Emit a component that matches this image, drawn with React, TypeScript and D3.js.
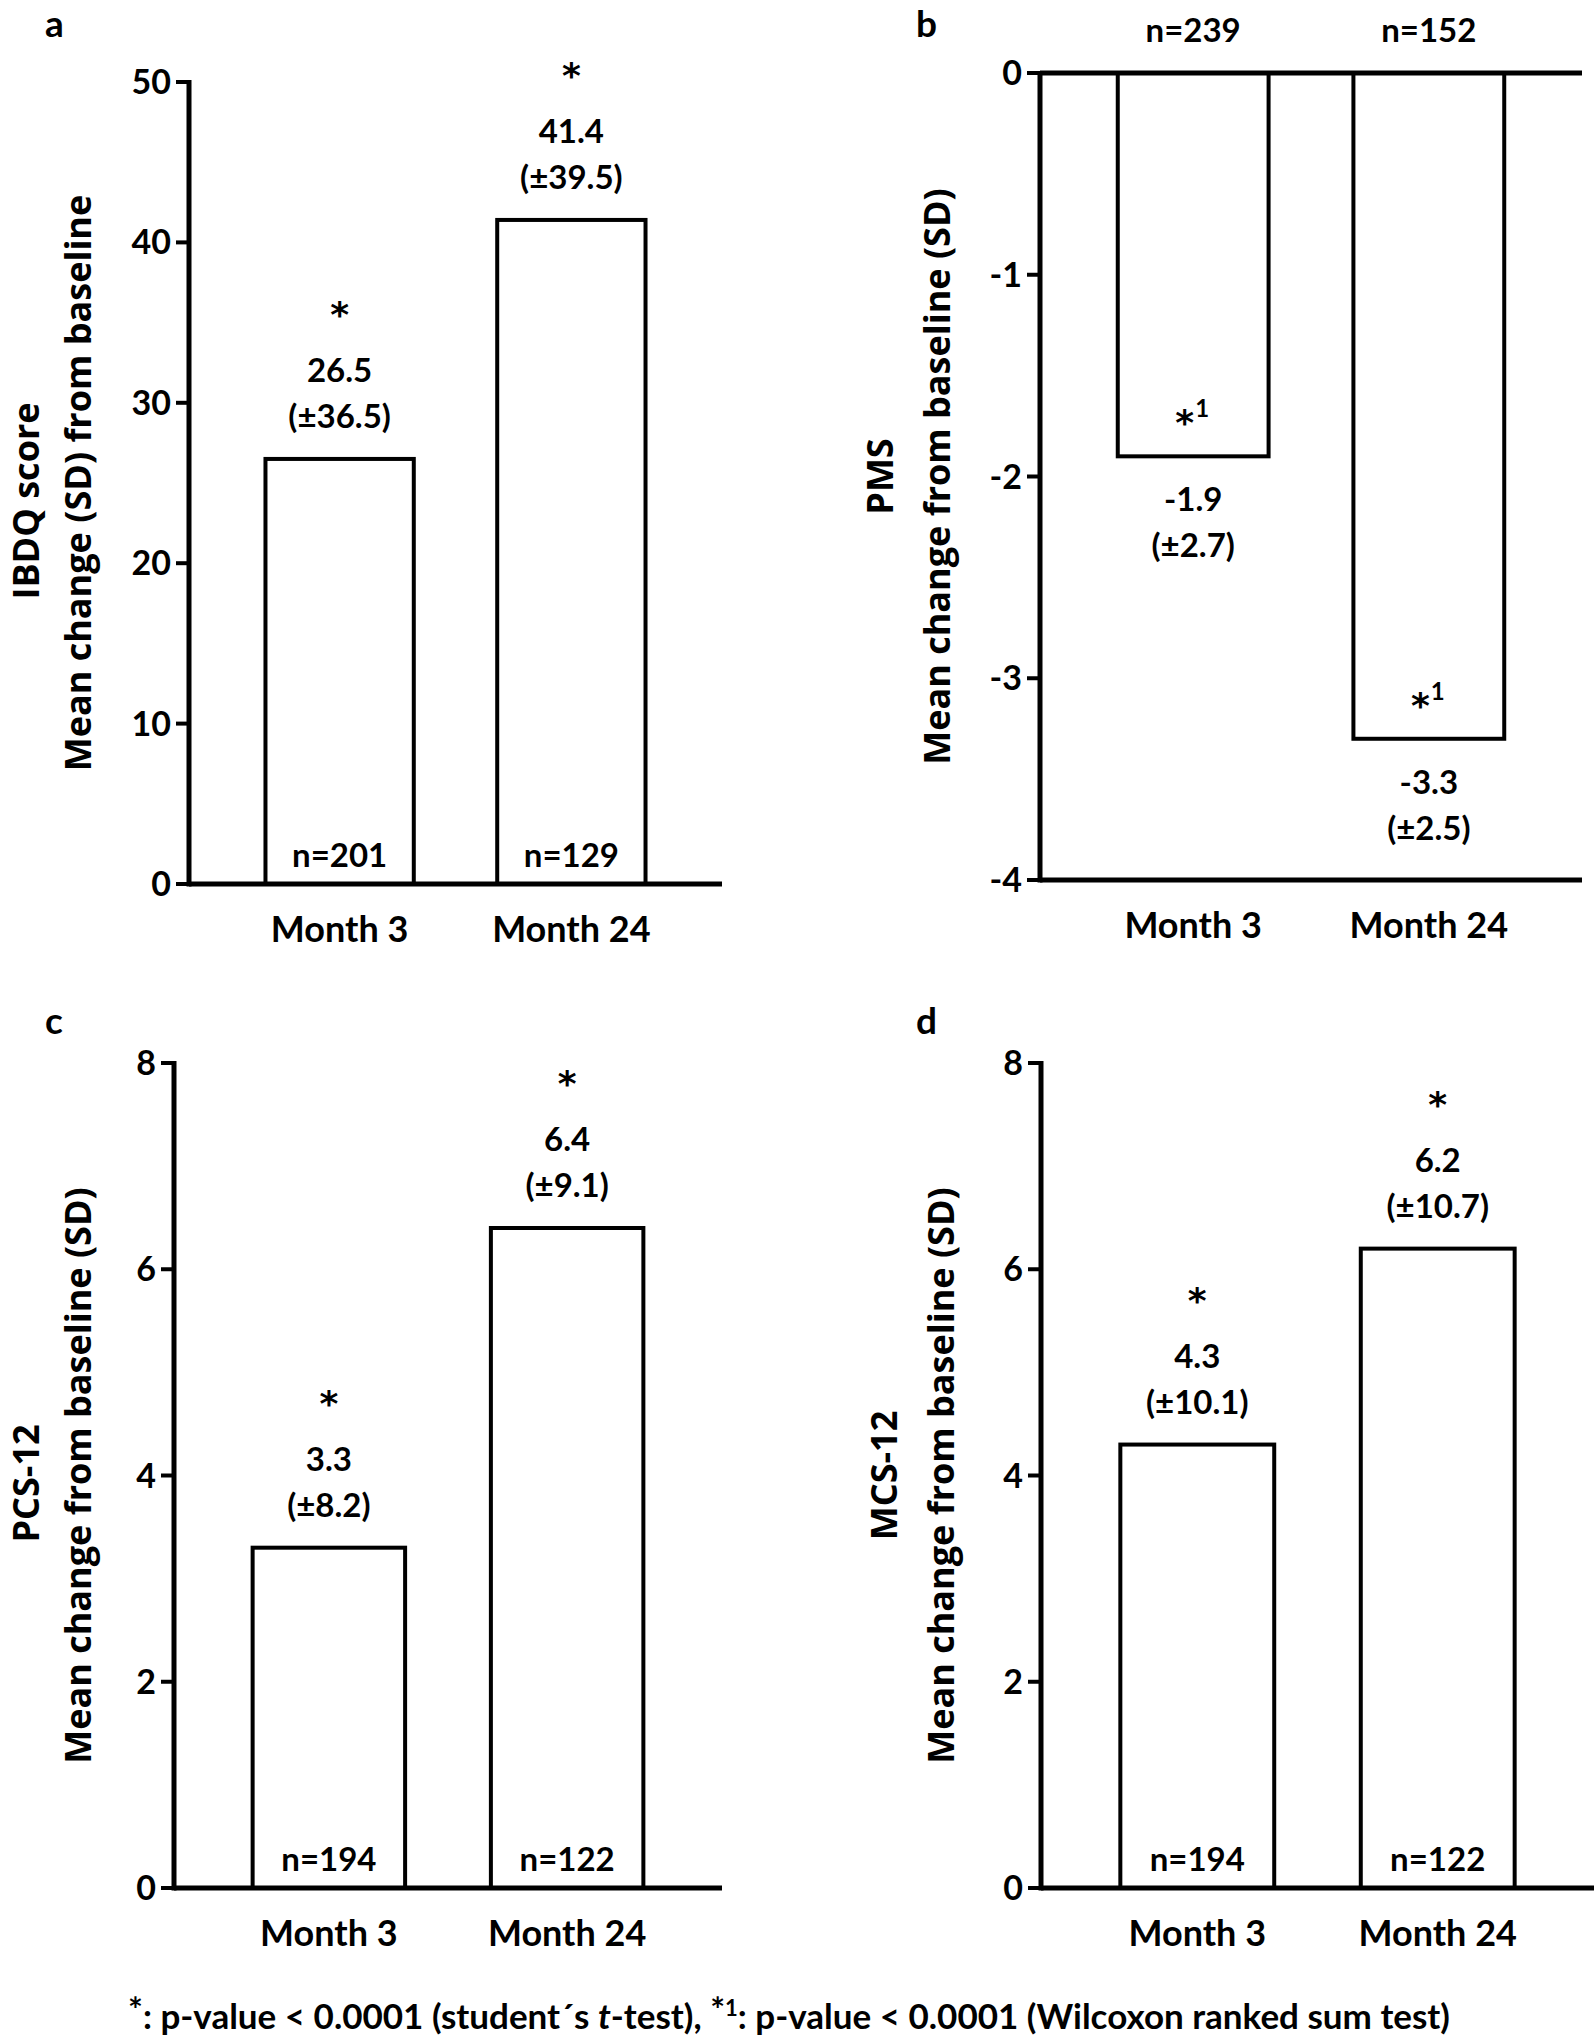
import React from "react";
import * as d3 from "d3";

const categories = ["Month 3", "Month 24"];

const ibdqMeans = [26.5, 41.4];
const ibdqSDs = [36.5, 39.5];
const ibdqNs = [201, 129];
const ibdqTicks = [0, 10, 20, 30, 40, 50];

const pmsMeans = [-1.9, -3.3];
const pmsSDs = [2.7, 2.5];
const pmsNs = [239, 152];
const pmsTicks = [0, -1, -2, -3, -4];

const pcsMeans = [3.3, 6.4];
const pcsSDs = [8.2, 9.1];
const pcsNs = [194, 122];

const mcsMeans = [4.3, 6.2];
const mcsSDs = [10.1, 10.7];
const mcsNs = [194, 122];
const sf12Ticks = [0, 2, 4, 6, 8];

const W = 1594;
const H = 2038;
const NUM_FONT = "Lato, 'Open Sans', sans-serif";
const TITLE_FONT = "'Open Sans', 'Noto Sans', sans-serif";
const STAR_FONT = "'DejaVu Sans', sans-serif";

type PanelCfg = {
  letter: string;
  letterX: number;
  letterY: number;
  axisX: number;
  xEnd: number;
  yTopPx: number;
  yBotPx: number;
  domain: [number, number];
  ticks: number[];
  means: number[];
  sds: number[];
  ns: number[];
  titles: string[];
  titleX: number[];
  title1Shift: number;
  negative: boolean;
};

const panels: PanelCfg[] = [
  {
    letter: "a", letterX: 45, letterY: 37, axisX: 189, xEnd: 722, yTopPx: 82, yBotPx: 884,
    domain: [0, 50], ticks: ibdqTicks, means: ibdqMeans, sds: ibdqSDs, ns: ibdqNs,
    titles: ["IBDQ score", "Mean change (SD) from baseline"], titleX: [39, 91], title1Shift: 18, negative: false,
  },
  {
    letter: "b", letterX: 916, letterY: 37, axisX: 1040, xEnd: 1582, yTopPx: 73, yBotPx: 880,
    domain: [-4, 0], ticks: pmsTicks, means: pmsMeans, sds: pmsSDs, ns: pmsNs,
    titles: ["PMS", "Mean change from baseline (SD)"], titleX: [893, 950], title1Shift: 0, negative: true,
  },
  {
    letter: "c", letterX: 45, letterY: 1034, axisX: 174, xEnd: 722, yTopPx: 1063, yBotPx: 1888,
    domain: [0, 8], ticks: sf12Ticks, means: pcsMeans, sds: pcsSDs, ns: pcsNs,
    titles: ["PCS-12", "Mean change from baseline (SD)"], titleX: [39, 91], title1Shift: 8, negative: false,
  },
  {
    letter: "d", letterX: 916, letterY: 1034, axisX: 1041, xEnd: 1594, yTopPx: 1063, yBotPx: 1888,
    domain: [0, 8], ticks: sf12Ticks, means: mcsMeans, sds: mcsSDs, ns: mcsNs,
    titles: ["MCS-12", "Mean change from baseline (SD)"], titleX: [897, 954], title1Shift: 0, negative: false,
  },
];

const fmt = (v: number) => v.toFixed(1);

function Panel({ p }: { p: PanelCfg }) {
  const x = d3
    .scaleBand<string>()
    .domain(categories)
    .range([p.axisX, p.xEnd])
    .paddingInner(0.36)
    .paddingOuter(0.33);
  const y = d3.scaleLinear().domain(p.domain).range([p.yBotPx, p.yTopPx]);
  const zeroY = y(0);
  const bw = x.bandwidth();
  const cy = (p.yTopPx + p.yBotPx) / 2;

  return (
    <g>
      <text x={p.letterX} y={p.letterY} fontFamily={NUM_FONT} fontWeight={700} fontSize={37}>
        {p.letter}
      </text>
      {p.titles.map((t, i) => (
        <text
          key={t}
          transform={`translate(${p.titleX[i]},${cy + (i === 0 ? p.title1Shift : 0)}) rotate(-90)`}
          textAnchor="middle"
          fontFamily={TITLE_FONT}
          fontWeight={700}
          fontSize={36}
        >
          {t}
        </text>
      ))}
      {/* bars */}
      {categories.map((c, i) => {
        const v = p.means[i];
        const y0 = y(Math.max(0, v));
        const y1 = y(Math.min(0, v));
        return (
          <rect
            key={c}
            x={x(c)}
            y={y0}
            width={bw}
            height={y1 - y0}
            fill="#fff"
            stroke="#000"
            strokeWidth={4}
          />
        );
      })}
      {/* y axis */}
      <line x1={p.axisX} x2={p.axisX} y1={p.yTopPx - 2} y2={p.yBotPx + 2.5} stroke="#000" strokeWidth={5} />
      {p.ticks.map((t) => (
        <g key={t}>
          <line x1={p.axisX - 13} x2={p.axisX} y1={y(t)} y2={y(t)} stroke="#000" strokeWidth={4} />
          <text
            x={p.axisX - 18}
            y={y(t) + 12}
            textAnchor="end"
            fontFamily={NUM_FONT}
            fontWeight={700}
            fontSize={34}
          >
            {t}
          </text>
        </g>
      ))}
      {/* horizontal axis lines */}
      <line x1={p.axisX} x2={p.xEnd} y1={zeroY} y2={zeroY} stroke="#000" strokeWidth={5} />
      {p.negative && (
        <line x1={p.axisX} x2={p.xEnd} y1={p.yBotPx} y2={p.yBotPx} stroke="#000" strokeWidth={5} />
      )}
      {/* category labels */}
      {categories.map((c) => (
        <text
          key={c}
          x={(x(c) as number) + bw / 2}
          y={p.yBotPx + 58}
          textAnchor="middle"
          fontFamily={NUM_FONT}
          fontWeight={700}
          fontSize={36}
        >
          {c}
        </text>
      ))}
      {/* annotations */}
      {categories.map((c, i) => {
        const cx = (x(c) as number) + bw / 2;
        const v = p.means[i];
        const edge = y(v);
        if (!p.negative) {
          return (
            <g key={c} fontWeight={700} textAnchor="middle">
              <text x={cx} y={edge - 132} fontSize={36} fontFamily={STAR_FONT}>*</text>
              <text x={cx} y={edge - 77} fontSize={33} fontFamily={NUM_FONT}>{fmt(v)}</text>
              <text x={cx} y={edge - 31} fontSize={33} fontFamily={NUM_FONT}>{`(±${fmt(p.sds[i])})`}</text>
              <text x={cx} y={zeroY - 17} fontSize={33} fontFamily={NUM_FONT}>{`n=${p.ns[i]}`}</text>
            </g>
          );
        }
        return (
          <g key={c} fontWeight={700}>
            <text x={cx + 1} y={edge - 21} fontSize={36} fontFamily={STAR_FONT} textAnchor="end">*</text>
            <text x={cx + 2} y={edge - 39} fontSize={24} fontFamily={NUM_FONT} textAnchor="start">1</text>
            <text x={cx} y={edge + 55} fontSize={33} fontFamily={NUM_FONT} textAnchor="middle">{fmt(v)}</text>
            <text x={cx} y={edge + 101} fontSize={33} fontFamily={NUM_FONT} textAnchor="middle">{`(±${fmt(p.sds[i])})`}</text>
            <text x={cx} y={zeroY - 31} fontSize={33} fontFamily={NUM_FONT} textAnchor="middle">{`n=${p.ns[i]}`}</text>
          </g>
        );
      })}
    </g>
  );
}

export default function App() {
  return (
    <svg
      width={W}
      height={H}
      viewBox={`0 0 ${W} ${H}`}
      style={{ position: "absolute", left: 0, top: 0, background: "#fff" }}
    >
      <rect x={0} y={0} width={W} height={H} fill="#fff" />
      {panels.map((p) => (
        <Panel key={p.letter} p={p} />
      ))}
      <text x={789} y={2029} textAnchor="middle" fontFamily={NUM_FONT} fontWeight={700} fontSize={35}>
        <tspan dy={-7}>*</tspan>
        <tspan dy={7}>: p-value &lt; 0.0001 (student´s </tspan>
        <tspan fontStyle="italic">t</tspan>
        <tspan>-test), </tspan>
        <tspan dy={-7}>*</tspan>
        <tspan fontSize={22} dy={-6}>1</tspan>
        <tspan dy={13}>: p-value &lt; 0.0001 (Wilcoxon ranked sum test)</tspan>
      </text>
    </svg>
  );
}
